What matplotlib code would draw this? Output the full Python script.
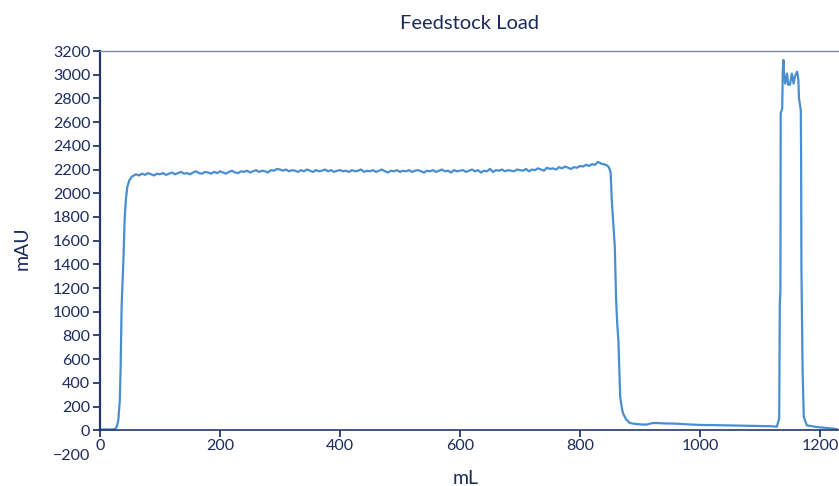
import numpy as np
import matplotlib
matplotlib.use("Agg")
import matplotlib.pyplot as plt

# ---- data ----
start_ml = [0, 10, 20, 25, 28, 30.5, 33, 34.4, 36, 39, 41, 43, 45.5, 49, 53]
start_mau = [5, 8, 6, 10, 30, 85, 250, 535, 1040, 1435, 1770, 1940, 2055, 2110, 2140]

plateau_first_ml = 60
plateau_step_ml = 5
plateau_mau = [
    2160, 2150, 2165, 2155, 2170, 2160, 2150, 2165, 2160,
    2170, 2155, 2165, 2175, 2160, 2170, 2180, 2165, 2170, 2160, 2175, 2185, 2170, 2165, 2180, 2175, 2165, 2180, 2170, 2185,
    2175, 2165, 2180, 2190, 2175, 2170, 2185, 2180, 2190, 2175, 2185, 2195, 2180, 2190, 2185, 2175, 2195, 2190, 2205, 2200,
    2190, 2200, 2185, 2195, 2190, 2180, 2195, 2185, 2200, 2190, 2180, 2195, 2185, 2190, 2200, 2185, 2195, 2180, 2190, 2195,
    2185, 2190, 2180, 2195, 2185, 2190, 2200, 2180, 2190, 2185, 2195, 2180, 2190, 2200, 2185, 2175, 2190, 2185, 2195, 2180,
    2190, 2185, 2195, 2180, 2190, 2195, 2185, 2175, 2190, 2185, 2195, 2180, 2190, 2200, 2185, 2190, 2175, 2195, 2185, 2190,
    2195, 2180, 2190, 2200, 2185, 2195, 2175, 2190, 2185, 2205, 2180, 2195, 2190, 2200, 2185, 2195, 2190, 2185, 2200, 2195,
    2190, 2205, 2185, 2200, 2195, 2210, 2200, 2190, 2215, 2205, 2210, 2200, 2220, 2210, 2225, 2215, 2205, 2220, 2215, 2230,
    2225, 2240, 2230, 2245, 2240, 2265, 2250, 2245, 2235,
]

drop_ml = [848, 851, 853, 856, 858, 860, 862, 864, 866, 867, 870, 872, 877, 883, 890, 900, 911,
           920, 926, 940, 960, 980, 1000, 1020, 1040, 1060, 1080, 1100, 1120, 1128]
drop_mau = [2220, 2180, 1940, 1700, 1548, 1125, 900, 760, 450, 280, 180, 140, 90, 62, 55, 50, 48,
            60, 62, 58, 56, 50, 45, 44, 42, 40, 38, 36, 34, 30]

peak_ml = [1132, 1133, 1134, 1134.5, 1137, 1138, 1139, 1140, 1142, 1145, 1147, 1150, 1153,
           1156, 1158, 1162, 1164, 1165, 1168, 1168.5, 1169, 1171, 1173, 1178, 1194, 1210, 1222, 1230]
peak_mau = [100, 1070, 1180, 2675, 2715, 3040, 3125, 3010, 2925, 3010, 2915, 2915, 3010,
            2925, 2985, 3025, 2955, 2800, 2700, 2310, 1380, 505, 112, 42, 28, 20, 14, 8]

plateau_ml = list(plateau_first_ml + plateau_step_ml * np.arange(len(plateau_mau)))

ml = start_ml + plateau_ml + drop_ml + peak_ml
mau = start_mau + plateau_mau + drop_mau + peak_mau

x_ticks = [0, 200, 400, 600, 800, 1000, 1200]
y_ticks = list(range(-200, 3201, 200))

# ---- style ----
navy = "#1c2b5e"
spine_col = "#24386e"
line_col = "#4a8ed2"
plt.rcParams["font.family"] = ["Lato", "DejaVu Sans"]

fig = plt.figure(figsize=(8.39, 4.86), dpi=100)
ax = fig.add_axes([100 / 839, (486 - 454) / 486, 738 / 839, (454 - 51) / 486])

ax.plot(ml, mau, color=line_col, lw=1.6)

ax.set_xlim(0, 1230)
ax.set_ylim(-200, 3200)
ax.set_xticks(x_ticks)
ax.set_yticks(y_ticks)

ax.spines["right"].set_visible(False)
ax.spines["bottom"].set_position(("data", 0))
ax.spines["bottom"].set_color(spine_col)
ax.spines["bottom"].set_linewidth(1.2)
ax.spines["left"].set_color(spine_col)
ax.spines["left"].set_linewidth(1.6)
ax.spines["left"].set_bounds(0, 3200)
ax.spines["top"].set_color("#7a88aa")
ax.spines["top"].set_linewidth(1.0)

ax.tick_params(axis="both", colors=spine_col, labelcolor=navy, labelsize=11.5,
               length=5, width=1.3, direction="out")
ax.tick_params(axis="x", pad=1)
ax.tick_params(axis="y", pad=2)
ax.yaxis.get_major_ticks()[0].tick1line.set_visible(False)

ax.set_title("Feedstock Load", color=navy, fontsize=14.5, pad=16)
ax.set_xlabel("mL", color=navy, fontsize=14, labelpad=8)
ax.set_ylabel("mAU", color=navy, fontsize=14, labelpad=10)
ax.xaxis.set_label_coords(0.495, -0.04)
ax.yaxis.set_label_coords(-0.094, 0.51)

fig.savefig("out.png", dpi=100)
